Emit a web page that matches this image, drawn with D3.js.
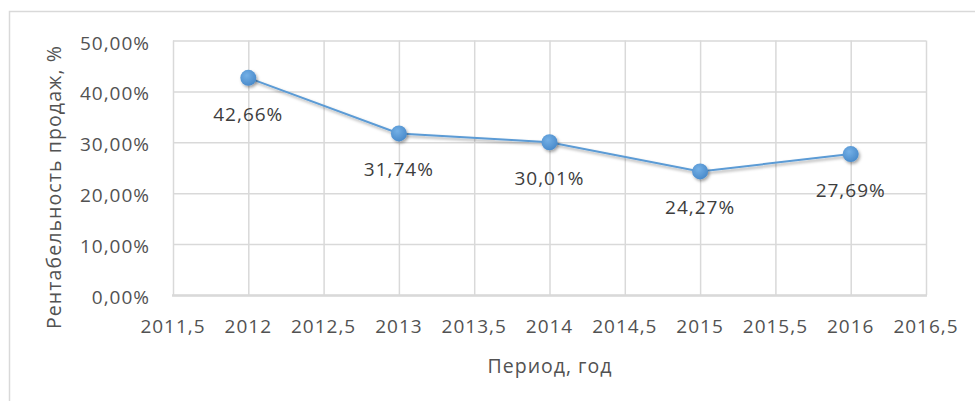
<!DOCTYPE html>
<html>
<head>
<meta charset="utf-8">
<script src="https://cdn.jsdelivr.net/npm/d3@7"></script>
<style>
  html, body { margin: 0; padding: 0; background: #fff; }
  svg { display: block; font-family: 'Open Sans', sans-serif; }
</style>
</head>
<body>
<div id="chart"></div>
<script>
// данные графика
const years = [2012, 2013, 2014, 2015, 2016]
const profitability = [0.4266, 0.3174, 0.3001, 0.2427, 0.2769]
const xTicks = [2011.5, 2012, 2012.5, 2013, 2013.5, 2014, 2014.5, 2015, 2015.5, 2016, 2016.5]
const yTicks = [0, 0.1, 0.2, 0.3, 0.4, 0.5]
const xTitle = 'Период, год'
const yTitle = 'Рентабельность продаж, %'

const width = 975
const height = 401
const plot = { left: 173, right: 926, top: 40.5, bottom: 295 }

const ru = d3.formatLocale({ decimal: ',', thousands: ' ', grouping: [3], currency: ['', ''] })
const fmtPct = ru.format('.2%')
const fmtYear = ru.format('~g')

const x = d3.scaleLinear().domain([2011.5, 2016.5]).range([plot.left, plot.right])
const y = d3.scaleLinear().domain([0, 0.5]).range([plot.bottom, plot.top])

const svg = d3.select('#chart')
  .append('svg')
  .attr('width', width)
  .attr('height', height)

const defs = svg.append('defs')

const grad = defs.append('radialGradient')
  .attr('id', 'markerFill')
  .attr('cx', '40%')
  .attr('cy', '35%')
  .attr('r', '65%')
grad.append('stop').attr('offset', '0%').attr('stop-color', '#74b0e6')
grad.append('stop').attr('offset', '100%').attr('stop-color', '#4a8bcb')

defs.append('filter')
  .attr('id', 'shadow')
  .attr('x', '-50%').attr('y', '-50%')
  .attr('width', '200%').attr('height', '200%')
  .append('feDropShadow')
  .attr('dx', 1.5)
  .attr('dy', 2)
  .attr('stdDeviation', 1.8)
  .attr('flood-color', '#000')
  .attr('flood-opacity', 0.35)

// рамка области диаграммы
svg.append('rect')
  .attr('x', 9.5)
  .attr('y', 11.5)
  .attr('width', width)
  .attr('height', height)
  .attr('fill', 'none')
  .attr('stroke', '#d9d9d9')
  .attr('stroke-width', 1.5)

// сетка
svg.append('g')
  .attr('class', 'grid-x')
  .attr('transform', `translate(0,${plot.bottom})`)
  .call(d3.axisBottom(x).tickValues(xTicks).tickSize(-(plot.bottom - plot.top)).tickFormat(''))
  .call((g) => g.select('.domain').remove())
  .selectAll('line')
  .attr('stroke', '#d9d9d9')
  .attr('stroke-width', 1.5)

svg.append('g')
  .attr('class', 'grid-y')
  .attr('transform', `translate(${plot.left},0)`)
  .call(d3.axisLeft(y).tickValues(yTicks).tickSize(-(plot.right - plot.left)).tickFormat(''))
  .call((g) => g.select('.domain').remove())
  .selectAll('line')
  .attr('stroke', '#d9d9d9')
  .attr('stroke-width', 1.5)

// ось X
svg.append('line')
  .attr('x1', plot.left - 1)
  .attr('x2', plot.right + 1)
  .attr('y1', plot.bottom + 0.5)
  .attr('y2', plot.bottom + 0.5)
  .attr('stroke', '#d9d9d9')
  .attr('stroke-width', 2.5)

// подписи делений
svg.append('g')
  .selectAll('text')
  .data(xTicks)
  .join('text')
  .attr('x', (d) => x(d))
  .attr('y', 333)
  .attr('text-anchor', 'middle')
  .attr('fill', '#525252')
  .attr('font-size', 19)
  .attr('letter-spacing', 1)
  .text((d) => fmtYear(d))

svg.append('g')
  .selectAll('text')
  .data(yTicks)
  .join('text')
  .attr('x', 150)
  .attr('y', (d) => y(d) + 9)
  .attr('text-anchor', 'end')
  .attr('fill', '#525252')
  .attr('font-size', 19)
  .attr('letter-spacing', 1)
  .text((d) => fmtPct(d))

// названия осей
svg.append('text')
  .attr('x', 550)
  .attr('y', 373)
  .attr('text-anchor', 'middle')
  .attr('fill', '#525252')
  .attr('font-size', 19.5)
  .attr('letter-spacing', 1)
  .text(xTitle)

svg.append('text')
  .attr('transform', 'translate(61,187) rotate(-90)')
  .attr('text-anchor', 'middle')
  .attr('fill', '#525252')
  .attr('font-size', 19.5)
  .attr('letter-spacing', 1.1)
  .text(yTitle)

// линия ряда
const points = years.map((yr, i) => [yr, profitability[i]])

svg.append('path')
  .datum(points)
  .attr('fill', 'none')
  .attr('stroke', '#5b9bd5')
  .attr('stroke-width', 2)
  .attr('filter', 'url(#shadow)')
  .attr('d', d3.line().x((d) => x(d[0])).y((d) => y(d[1])))

svg.append('g')
  .selectAll('circle')
  .data(points)
  .join('circle')
  .attr('cx', (d) => x(d[0]))
  .attr('cy', (d) => y(d[1]))
  .attr('r', 8)
  .attr('fill', 'url(#markerFill)')
  .attr('filter', 'url(#shadow)')

// подписи данных
svg.append('g')
  .selectAll('text')
  .data(points)
  .join('text')
  .attr('x', (d) => x(d[0]))
  .attr('y', (d) => y(d[1]) + 43)
  .attr('text-anchor', 'middle')
  .attr('fill', '#3d3d3d')
  .attr('font-size', 19)
  .attr('letter-spacing', 1)
  .text((d) => fmtPct(d[1]))
</script>
</body>
</html>
